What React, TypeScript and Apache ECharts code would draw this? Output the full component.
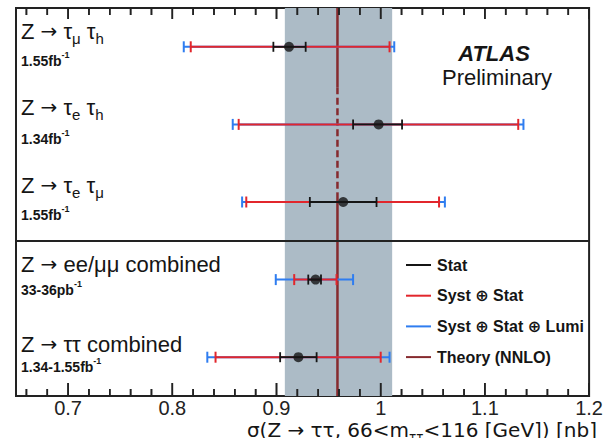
import React, { useEffect, useRef } from "react";
import * as echarts from "echarts";

// Measurements, one entry per channel (top to bottom)
const channels = ["Z→τμτh", "Z→τeτh", "Z→τeτμ", "Z→ee/μμ", "Z→ττ"];
const central = [0.912, 0.998, 0.964, 0.9375, 0.921];
const statLo = [0.897, 0.9735, 0.932, 0.9305, 0.9035];
const statHi = [0.928, 1.0205, 0.996, 0.9427, 0.9385];
const systLo = [0.8177, 0.8637, 0.871, 0.917, 0.8415];
const systHi = [1.0085, 1.132, 1.056, 0.9576, 1.0];
const lumiLo = [0.811, 0.858, 0.867, 0.8993, 0.8336];
const lumiHi = [1.013, 1.137, 1.0616, 0.9735, 1.0085];

// NNLO prediction and its uncertainty band
const theory = 0.9585;
const theoryLo = 0.908;
const theoryHi = 1.011;

// Axis
const xMin = 0.65;
const xMax = 1.2;
const majorTicks = [0.7, 0.8, 0.9, 1.0, 1.1, 1.2];
const minorTicks = [
  0.66, 0.68, 0.72, 0.74, 0.76, 0.78, 0.82, 0.84, 0.86, 0.88, 0.92, 0.94,
  0.96, 0.98, 1.02, 1.04, 1.06, 1.08, 1.12, 1.14, 1.16, 1.18,
];

const FONT = "'Liberation Sans', Arial, 'DejaVu Sans', sans-serif";
const WIDE_FONT = "'DejaVu Sans', sans-serif";
const BLACK = "#151515";
const RED = "#e2262c";
const BLUE = "#2f7df0";
const THEORY = "#862a2e";
const BAND = "#acbbc6";
const FRAME = "#222222";

const yTop = -0.5;
const yBottom = channels.length - 0.5;

function errorBars(name: string, lo: number[], hi: number[], color: string, width: number, cap: number, z: number) {
  return {
    type: "custom",
    name,
    z,
    data: channels.map((_, i) => [i, lo[i], hi[i]]),
    encode: { x: [1, 2], y: 0 },
    renderItem: (_params: any, api: any) => {
      const row = api.value(0);
      const a = api.coord([api.value(1), row]);
      const b = api.coord([api.value(2), row]);
      const style = { stroke: color, lineWidth: width };
      return {
        type: "group",
        children: [
          { type: "line", shape: { x1: a[0], y1: a[1], x2: b[0], y2: b[1] }, style },
          { type: "line", shape: { x1: a[0], y1: a[1] - cap / 2, x2: a[0], y2: a[1] + cap / 2 }, style },
          { type: "line", shape: { x1: b[0], y1: b[1] - cap / 2, x2: b[0], y2: b[1] + cap / 2 }, style },
        ],
      };
    },
  };
}

// Frame ticks drawn as thin filled bars just inside the top and bottom edges
function tickRects(api: any, values: number[], bottomLen: number, topLen: number) {
  const out: any[] = [];
  values.forEach((v) => {
    const top = api.coord([v, yTop]);
    const bot = api.coord([v, yBottom]);
    const y0 = Math.min(top[1], bot[1]);
    const y1 = Math.max(top[1], bot[1]);
    out.push({ type: "rect", shape: { x: top[0] - 0.8, y: y1 - bottomLen, width: 1.6, height: bottomLen }, style: { fill: FRAME } });
    out.push({ type: "rect", shape: { x: top[0] - 0.8, y: y0, width: 1.6, height: topLen }, style: { fill: FRAME } });
  });
  return out;
}

function mainLabel(parts: [string, string][], x: number, y: number) {
  const text = parts.map(([k, t]) => `{${k}|${t}}`).join("");
  return {
    type: "text",
    x,
    y,
    style: {
      text,
      verticalAlign: "middle",
      rich: {
        m: { fontFamily: FONT, fontSize: 22, lineHeight: 30, fill: BLACK },
        a: { fontFamily: WIDE_FONT, fontSize: 20, lineHeight: 30, fill: BLACK },
        s: { fontFamily: FONT, fontSize: 15, lineHeight: 15, verticalAlign: "bottom", fill: BLACK },
      },
    },
    z: 20,
  };
}

function lumiLabel(value: string, x: number, y: number) {
  return {
    type: "text",
    x,
    y,
    style: {
      text: `{m|${value}}{p|-1}`,
      verticalAlign: "middle",
      rich: {
        m: { fontFamily: FONT, fontSize: 14, fontWeight: "bold", lineHeight: 17, verticalAlign: "bottom", fill: BLACK },
        p: { fontFamily: FONT, fontSize: 9, fontWeight: "bold", lineHeight: 9, verticalAlign: "top", fill: BLACK },
      },
    },
    z: 20,
  };
}

const legendItems: [string, string][] = [
  ["Stat", BLACK],
  ["Syst ⊕ Stat", RED],
  ["Syst ⊕ Stat ⊕ Lumi", BLUE],
  ["Theory (NNLO)", THEORY],
];

export default function App() {
  const ref = useRef<HTMLDivElement>(null);

  useEffect(() => {
    document.body.style.margin = "0";
    const chart = echarts.init(ref.current!, null, { renderer: "svg" });

    const tickFmt = (v: any) => String(+Number(v).toFixed(2));

    const legendGraphics: any[] = [];
    legendItems.forEach(([label, color], i) => {
      const y = 265 + i * 30.7;
      legendGraphics.push({
        type: "line",
        shape: { x1: 406, y1: y, x2: 431, y2: y },
        style: { stroke: color, lineWidth: 2 },
        z: 20,
      });
      legendGraphics.push({
        type: "text",
        x: 437,
        y,
        style: { text: label, fontFamily: FONT, fontSize: 16, fontWeight: "bold", fill: BLACK, verticalAlign: "middle" },
        z: 20,
      });
    });

    const staticGraphics = [
      mainLabel([["m", "Z "], ["a", "→"], ["m", " τ"], ["s", "μ"], ["m", " τ"], ["s", "h"]], 21, 31),
      lumiLabel("1.55fb", 21, 59),
      mainLabel([["m", "Z "], ["a", "→"], ["m", " τ"], ["s", "e"], ["m", " τ"], ["s", "h"]], 21, 107),
      lumiLabel("1.34fb", 21, 137),
      mainLabel([["m", "Z "], ["a", "→"], ["m", " τ"], ["s", "e"], ["m", " τ"], ["s", "μ"]], 21, 185),
      lumiLabel("1.55fb", 21, 213),
      mainLabel([["m", "Z "], ["a", "→"], ["m", " ee/μμ combined"]], 21, 264),
      lumiLabel("33-36pb", 21, 288),
      mainLabel([["m", "Z "], ["a", "→"], ["m", " ττ combined"]], 21, 344),
      lumiLabel("1.34-1.55fb", 21, 365),
      {
        type: "text",
        x: 494,
        y: 53,
        style: {
          text: "ATLAS",
          fontFamily: FONT,
          fontSize: 22,
          fontWeight: "bold",
          fontStyle: "italic",
          fill: BLACK,
          align: "center",
          verticalAlign: "middle",
        },
        z: 20,
      },
      {
        type: "text",
        x: 497,
        y: 77,
        style: {
          text: "Preliminary",
          fontFamily: FONT,
          fontSize: 22,
          fill: BLACK,
          align: "center",
          verticalAlign: "middle",
        },
        z: 20,
      },
      ...legendGraphics,
      {
        type: "text",
        x: 597,
        y: 430,
        style: {
          text: "{m|σ(Z → ττ, 66<m}{s|ττ}{m|<116 [GeV]) [nb]}",
          align: "right",
          verticalAlign: "middle",
          rich: {
            m: { fontFamily: WIDE_FONT, fontSize: 20, lineHeight: 26, fill: BLACK },
            s: { fontFamily: WIDE_FONT, fontSize: 12, lineHeight: 12, verticalAlign: "bottom", fill: BLACK },
          },
        },
        z: 20,
      },
    ];

    chart.setOption({
      animation: false,
      backgroundColor: "#ffffff",
      grid: {
        left: 16,
        right: 13,
        top: 8,
        bottom: 42,
        show: true,
        borderColor: FRAME,
        borderWidth: 2,
        backgroundColor: "transparent",
      },
      xAxis: {
        type: "value",
        min: xMin,
        max: xMax,
        position: "bottom",
        splitLine: { show: false },
        axisLine: { show: false, onZero: false },
        axisTick: { show: false },
        axisLabel: {
          show: true,
          customValues: majorTicks,
          formatter: tickFmt,
          fontFamily: FONT,
          fontSize: 20,
          color: "#222",
          margin: 2,
          showMaxLabel: true,
          hideOverlap: false,
        },
      },
      yAxis: {
        type: "value",
        min: yTop,
        max: yBottom,
        inverse: true,
        show: false,
        splitLine: { show: false },
      },
      series: [
        // uncertainty band of the prediction
        {
          type: "custom",
          z: 1,
          clip: false,
          data: [[theoryLo, theoryHi]],
          encode: { x: [0, 1] },
          renderItem: (_p: any, api: any) => {
            const a = api.coord([api.value(0), yTop]);
            const b = api.coord([api.value(1), yBottom]);
            return {
              type: "rect",
              shape: { x: a[0], y: a[1], width: b[0] - a[0], height: b[1] - a[1] },
              style: { fill: BAND },
            };
          },
        },
        // frame ticks, positioned through the x scale
        {
          type: "custom",
          z: 8,
          clip: false,
          silent: true,
          data: [[majorTicks[0], yTop]],
          encode: { x: 0, y: 1 },
          renderItem: (_p: any, api: any) => ({
            type: "group",
            children: [...tickRects(api, majorTicks, 13, 11), ...tickRects(api, minorTicks, 7, 7)],
          }),
        },
        // central prediction
        {
          type: "custom",
          z: 2,
          data: [[theory]],
          encode: { x: 0 },
          renderItem: (_p: any, api: any) => {
            const x = api.value(0);
            const p0 = api.coord([x, yTop]);
            const p1 = api.coord([x, 0.52]);
            const p2 = api.coord([x, 1.88]);
            const p3 = api.coord([x, yBottom]);
            const st = { stroke: THEORY, lineWidth: 2.5 };
            return {
              type: "group",
              children: [
                { type: "line", shape: { x1: p0[0], y1: p0[1], x2: p1[0], y2: p1[1] }, style: st },
                { type: "line", shape: { x1: p1[0], y1: p1[1], x2: p2[0], y2: p2[1] }, style: { ...st, lineDash: [7, 3.5] } },
                { type: "line", shape: { x1: p2[0], y1: p2[1], x2: p3[0], y2: p3[1] }, style: st },
              ],
            };
          },
          markLine: {
            silent: true,
            symbol: "none",
            label: { show: false },
            lineStyle: { color: FRAME, width: 2, type: "solid" },
            data: [{ yAxis: 2.5 }],
          },
        },
        errorBars("Syst ⊕ Stat ⊕ Lumi", lumiLo, lumiHi, BLUE, 2, 11, 3),
        errorBars("Syst ⊕ Stat", systLo, systHi, RED, 2, 11, 4),
        errorBars("Stat", statLo, statHi, BLACK, 1.8, 10, 5),
        {
          type: "scatter",
          z: 6,
          symbol: "circle",
          symbolSize: 10,
          itemStyle: { color: BLACK },
          data: central.map((v, i) => [v, i]),
        },
      ],
      graphic: staticGraphics,
    });

    // The same ticks as graphic bars, using the x axis alone for placement
    try {
      const gridTop = chart.convertToPixel({ yAxisIndex: 0 }, yTop) as any;
      const gridBottom = chart.convertToPixel({ yAxisIndex: 0 }, yBottom) as any;
      const yA = Math.min(Number(gridTop), Number(gridBottom));
      const yB = Math.max(Number(gridTop), Number(gridBottom));
      const tickGraphics: any[] = [];
      const addTicks = (values: number[], bottomLen: number, topLen: number) => {
        values.forEach((v) => {
          const px = Number(chart.convertToPixel({ xAxisIndex: 0 }, v));
          if (!isFinite(px) || !isFinite(yA) || !isFinite(yB)) return;
          tickGraphics.push({ type: "rect", z: 30, shape: { x: px - 0.8, y: yB - bottomLen, width: 1.6, height: bottomLen }, style: { fill: FRAME } });
          tickGraphics.push({ type: "rect", z: 30, shape: { x: px - 0.8, y: yA, width: 1.6, height: topLen }, style: { fill: FRAME } });
        });
      };
      addTicks(majorTicks, 13, 11);
      addTicks(minorTicks, 7, 7);
      if (tickGraphics.length) chart.setOption({ graphic: [...staticGraphics, ...tickGraphics] });
    } catch (e) {
      // series-drawn ticks remain
    }

    return () => chart.dispose();
  }, []);

  return <div ref={ref} style={{ position: "fixed", left: 0, top: 0, width: 606, height: 438 }} />;
}
